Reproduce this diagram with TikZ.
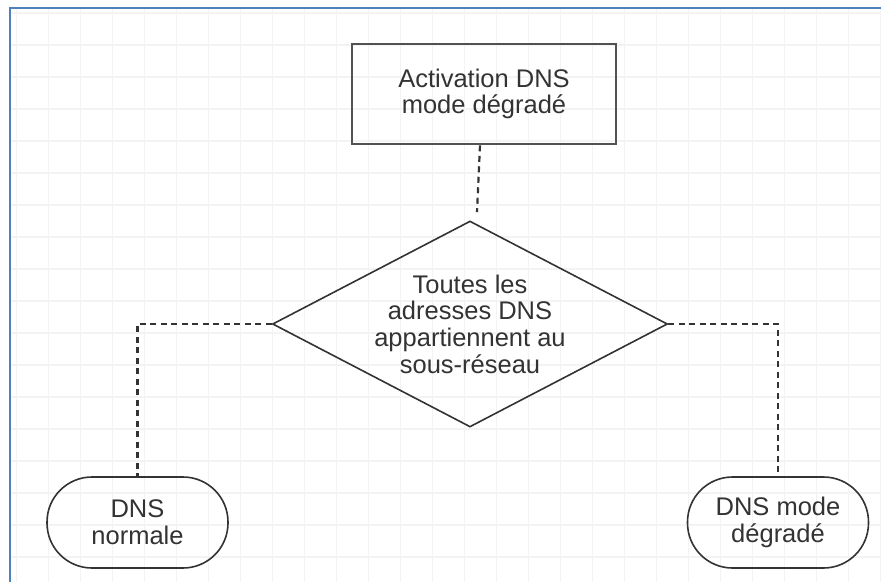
\documentclass[tikz,border=0pt]{standalone}
\usepackage{fontspec}
\setmainfont{Liberation Sans}
\usetikzlibrary{shapes.geometric}
\definecolor{cadre}{HTML}{4F81BD}
\definecolor{grille}{HTML}{F3F3F3}
\definecolor{trait}{HTML}{333333}
\begin{document}
\begin{tikzpicture}[x=1pt,y=-1pt,
	texte/.style={align=center,text=trait,font=\fontsize{25.5}{26.7}\selectfont},
	bloc/.style={texte,draw=trait!85,line width=2.6pt,minimum width=264pt,minimum height=100pt},
	choix/.style={texte,diamond,draw=trait,line width=1.6pt,inner sep=0pt,aspect=1.92,minimum width=395pt,minimum height=206pt},
	fin/.style={texte,draw=trait,line width=1.6pt,rounded corners=45pt,minimum width=181pt,minimum height=91pt},
	lien/.style={draw=trait,line width=2.2pt,dash pattern=on 6pt off 4.5pt}]
		\fill[white] (0,0) rectangle (881,582);
		\useasboundingbox (0,0) rectangle (881,582);
		\foreach \gx in {16.6,48.6,...,881}
			\draw[grille,line width=1.5pt] (\gx,9) -- (\gx,582);
		\foreach \gy in {12.8,44.8,...,582}
			\draw[grille,line width=1.5pt] (10,\gy) -- (881,\gy);
		\draw[cadre,line width=2pt] (9.5,582) -- (9.5,7.7) -- (881,7.7);
		\node[bloc] (activ) at (484,94) {Activation DNS\\mode dégradé};
		\node[choix] (test) at (470,324) {Toutes les\\adresses DNS\\appartiennent au\\sous-réseau};
		\node[fin] (normal) at (137.5,522.5) {DNS\\normale};
		\node[fin] (degrade) at (778,522.5) {DNS mode\\dégradé};
		\draw[lien] ([xshift=-4pt]activ.south) -- ([xshift=7pt,yshift=8pt]test.north);
		\draw[lien] (test.west) -| (normal.north);
		\draw[lien] (test.east) -| (degrade.north);
	\end{tikzpicture}
\end{document}
